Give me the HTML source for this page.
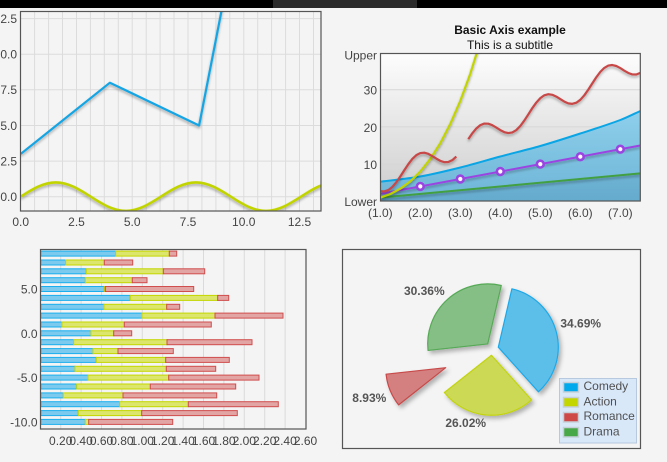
<!DOCTYPE html>
<html><head><meta charset="utf-8"><style>
html,body{margin:0;padding:0;background:#f4f4f4;}
svg{display:block;font-family:"Liberation Sans",sans-serif;}
</style></head><body>
<svg width="667" height="462" viewBox="0 0 667 462" xmlns="http://www.w3.org/2000/svg">
<defs>
<filter id="sh" x="-10%" y="-20%" width="120%" height="150%"><feDropShadow dx="0" dy="2" stdDeviation="1.2" flood-color="#000" flood-opacity="0.3"/></filter>
<filter id="psh" x="-20%" y="-20%" width="150%" height="150%"><feDropShadow dx="2.5" dy="3" stdDeviation="2" flood-color="#000" flood-opacity="0.28"/></filter>
<clipPath id="c1"><rect x="20.5" y="11.5" width="300.5" height="199.5"/></clipPath>
<clipPath id="c2"><rect x="380.5" y="53.5" width="259.8" height="147.5"/></clipPath>
<linearGradient id="bg2" x1="0" y1="0" x2="0" y2="1"><stop offset="0" stop-color="#fdfdfd"/><stop offset="1" stop-color="#cdcdcd"/></linearGradient>
<linearGradient id="ar" gradientUnits="userSpaceOnUse" x1="0" y1="110" x2="0" y2="201"><stop offset="0" stop-color="#8ed0ec"/><stop offset="1" stop-color="#6eb4d6"/></linearGradient>
</defs>
<rect x="0" y="0" width="667" height="462" fill="#f4f4f4"/>
<rect x="0" y="0" width="667" height="8" fill="#000"/>
<rect x="273" y="0" width="144" height="8" fill="#2b2b2b"/>

<!-- TOP LEFT -->
<g stroke="#dcdcdc" stroke-width="1">
<line x1="34.6" y1="11" x2="34.6" y2="211"/><line x1="48.6" y1="11" x2="48.6" y2="211"/><line x1="62.5" y1="11" x2="62.5" y2="211"/><line x1="76.5" y1="11" x2="76.5" y2="211"/><line x1="90.4" y1="11" x2="90.4" y2="211"/><line x1="104.3" y1="11" x2="104.3" y2="211"/><line x1="118.3" y1="11" x2="118.3" y2="211"/><line x1="132.2" y1="11" x2="132.2" y2="211"/><line x1="146.2" y1="11" x2="146.2" y2="211"/><line x1="160.1" y1="11" x2="160.1" y2="211"/><line x1="174.0" y1="11" x2="174.0" y2="211"/><line x1="188.0" y1="11" x2="188.0" y2="211"/><line x1="201.9" y1="11" x2="201.9" y2="211"/><line x1="215.9" y1="11" x2="215.9" y2="211"/><line x1="229.8" y1="11" x2="229.8" y2="211"/><line x1="243.8" y1="11" x2="243.8" y2="211"/><line x1="257.7" y1="11" x2="257.7" y2="211"/><line x1="271.6" y1="11" x2="271.6" y2="211"/><line x1="285.6" y1="11" x2="285.6" y2="211"/><line x1="299.5" y1="11" x2="299.5" y2="211"/><line x1="313.5" y1="11" x2="313.5" y2="211"/>
<line x1="20" y1="18.6" x2="321" y2="18.6"/><line x1="20" y1="54.2" x2="321" y2="54.2"/><line x1="20" y1="89.8" x2="321" y2="89.8"/><line x1="20" y1="125.5" x2="321" y2="125.5"/><line x1="20" y1="161.1" x2="321" y2="161.1"/><line x1="20" y1="196.7" x2="321" y2="196.7"/>
</g>
<g clip-path="url(#c1)" fill="none" stroke-linejoin="round">
<path filter="url(#sh)" d="M20.7,153.95 L109.9,82.7 L199.1,125.45 L243.7,-102.5" stroke="#12a5e4" stroke-width="2.2"/>
<path filter="url(#sh)" d="M20.7,196.7 C32.12,189.4 43.05,182.45 55.73,182.45 C68.41,182.45 79.33,189.4 90.76,196.7 C102.18,204.0 113.11,210.95 125.79,210.95 C138.47,210.95 149.39,204.0 160.82,196.7 C172.24,189.4 183.17,182.45 195.84,182.45 C208.52,182.45 219.44,189.4 230.87,196.7 C242.29,204.0 253.22,210.95 265.9,210.95 C278.58,210.95 289.5,204.0 300.93,196.7 C312.35,189.4 323.28,182.45 335.96,182.45" stroke="#c2d400" stroke-width="2.6"/>
</g>
<rect x="20.5" y="11.5" width="300.5" height="199.5" fill="none" stroke="#555" stroke-width="1.2"/>
<g font-size="12" fill="#444" text-anchor="end">
<text x="17" y="22.9">12.5</text><text x="17" y="58.5">10.0</text><text x="17" y="94.1">7.5</text><text x="17" y="129.8">5.0</text><text x="17" y="165.4">2.5</text><text x="17" y="201">0.0</text>
</g>
<g font-size="12" fill="#444" text-anchor="middle">
<text x="20.7" y="226">0.0</text><text x="76.5" y="226">2.5</text><text x="132.2" y="226">5.0</text><text x="188" y="226">7.5</text><text x="243.7" y="226">10.0</text><text x="299.5" y="226">12.5</text>
</g>

<!-- TOP RIGHT -->
<text x="510" y="34" font-size="12" font-weight="bold" fill="#111" text-anchor="middle">Basic Axis example</text>
<text x="510" y="49" font-size="12" fill="#111" text-anchor="middle">This is a subtitle</text>
<rect x="380.5" y="53.5" width="259.8" height="147.5" fill="url(#bg2)"/>
<g stroke="#d6d6d6" stroke-width="1"><line x1="380.5" y1="89.7" x2="640" y2="89.7"/><line x1="380.5" y1="126.9" x2="640" y2="126.9"/><line x1="380.5" y1="164.1" x2="640" y2="164.1"/></g>
<g clip-path="url(#c2)">
<path d="M380.3,181.7 C393.6,179.97 407,178.87 420.3,176.5 C433.6,174.13 447,170.83 460.3,167.5 C473.6,164.17 487,160.08 500.3,156.5 C513.6,152.92 527,149.83 540.3,146 C553.6,142.17 567,137.83 580.3,133.5 C593.6,129.17 607,125 620.3,120 C627,117.5 633.6,114 640.3,111 L640.3,202 L380.3,202 Z" fill="url(#ar)"/>
<path d="M380.3,197.6 L640.3,173.4 L640.3,202 L380.3,202 Z" fill="#1d5f86" fill-opacity="0.1"/>
<path d="M380.3,181.7 C393.6,179.97 407,178.87 420.3,176.5 C433.6,174.13 447,170.83 460.3,167.5 C473.6,164.17 487,160.08 500.3,156.5 C513.6,152.92 527,149.83 540.3,146 C553.6,142.17 567,137.83 580.3,133.5 C593.6,129.17 607,125 620.3,120 C627,117.5 633.6,114 640.3,111" fill="none" stroke="#0aa5e5" stroke-width="2"/>
<path filter="url(#sh)" d="M380.3,197.6 L640.3,173.4" fill="none" stroke="#43a043" stroke-width="2"/>
<path filter="url(#sh)" d="M380.3,193.9 L640.3,145.5" fill="none" stroke="#9a44e2" stroke-width="2"/>
<path filter="url(#sh)" d="M380.3,197.6 L390.3,194.0 L400.3,188.7 L410.3,181.4 L420.3,171.5 L430.3,158.9 L440.3,143.2 L450.3,123.9 L460.3,100.9 L470.3,73.7 L480.3,41.7 L490.3,5.2" fill="none" stroke="#c2d400" stroke-width="2.2" stroke-linejoin="round"/>
<g filter="url(#sh)" fill="none" stroke="#c84646" stroke-width="2.2" stroke-linejoin="round">
<path d="M380.3,191.14 L384.3,191.46 L388.3,190.1 L392.3,186.98 L396.3,182.31 L400.3,176.52 L404.3,170.24 L408.3,164.17 L412.3,158.96 L416.3,155.16 L420.3,153.06 L424.3,152.7 L428.3,153.85 L432.3,156.03 L436.3,158.61 L440.3,160.87 L444.3,162.18 L448.3,162.03 L452.3,160.15 L456.3,156.54"/>
<path d="M468.3,139.19 L472.3,133.27 L476.3,128.47 L480.3,125.14 L484.3,123.56 L488.3,123.7 L492.3,125.19 L496.3,127.56 L500.3,130.11 L504.3,132.16 L508.3,133.08 L512.3,132.45 L516.3,130.05 L520.3,125.98 L524.3,120.56 L528.3,114.43 L532.3,108.15 L536.3,102.55 L540.3,98.11 L544.3,95.28 L548.3,94.22 L552.3,94.78 L556.3,96.6 L560.3,99.1 L564.3,101.58 L568.3,103.38 L572.3,103.85 L576.3,102.71 L580.3,99.81 L584.3,95.31 L588.3,89.6 L592.3,83.36 L596.3,77.23 L600.3,71.89 L604.3,67.89 L608.3,65.57 L612.3,65.01 L616.3,66 L620.3,68.08 L624.3,70.64 L628.3,72.98 L632.3,74.46 L636.3,74.49 L640.3,72.83"/>
</g>
<g fill="#fff" stroke="#9a44e2" stroke-width="2.6">
<circle cx="420.3" cy="186.4" r="3.4"/><circle cx="460.3" cy="179" r="3.4"/><circle cx="500.3" cy="171.5" r="3.4"/><circle cx="540.3" cy="164.1" r="3.4"/><circle cx="580.3" cy="156.7" r="3.4"/><circle cx="620.3" cy="149.2" r="3.4"/>
</g>
</g>
<rect x="380.5" y="53.5" width="259.8" height="147.5" fill="none" stroke="#555" stroke-width="1.2"/>
<g font-size="12" fill="#444" text-anchor="end">
<text x="377" y="59.5">Upper</text><text x="377" y="94.5">30</text><text x="377" y="131.9">20</text><text x="377" y="169.2">10</text><text x="377" y="206">Lower</text>
</g>
<g font-size="12" fill="#444" text-anchor="middle">
<text x="380.3" y="217">(1.0)</text><text x="420.3" y="217">(2.0)</text><text x="460.3" y="217">(3.0)</text><text x="500.3" y="217">(4.0)</text><text x="540.3" y="217">(5.0)</text><text x="580.3" y="217">(6.0)</text><text x="620.3" y="217">(7.0)</text>
</g>

<!-- BOTTOM LEFT -->
<g stroke="#dadada" stroke-width="1">
<line x1="60.7" y1="249.5" x2="60.7" y2="429"/><line x1="81.1" y1="249.5" x2="81.1" y2="429"/><line x1="101.5" y1="249.5" x2="101.5" y2="429"/><line x1="121.9" y1="249.5" x2="121.9" y2="429"/><line x1="142.3" y1="249.5" x2="142.3" y2="429"/><line x1="162.7" y1="249.5" x2="162.7" y2="429"/><line x1="183.1" y1="249.5" x2="183.1" y2="429"/><line x1="203.5" y1="249.5" x2="203.5" y2="429"/><line x1="223.9" y1="249.5" x2="223.9" y2="429"/><line x1="244.3" y1="249.5" x2="244.3" y2="429"/><line x1="264.7" y1="249.5" x2="264.7" y2="429"/><line x1="285.1" y1="249.5" x2="285.1" y2="429"/>
</g>
<g stroke-width="1">
<g fill="#7ccbef" stroke="#1aaeee">
<rect x="40.8" y="251.1" width="74.9" height="5"/><rect x="40.8" y="260" width="24.9" height="5"/><rect x="40.8" y="268.8" width="45.5" height="5"/><rect x="40.8" y="277.7" width="44.5" height="5"/><rect x="40.8" y="286.5" width="63.5" height="5"/><rect x="40.8" y="295.4" width="89.5" height="5"/><rect x="40.8" y="304.3" width="63.2" height="5"/><rect x="40.8" y="313.1" width="101.2" height="5"/><rect x="40.8" y="322" width="21.2" height="5"/><rect x="40.8" y="330.8" width="50.2" height="5"/><rect x="40.8" y="339.7" width="32.9" height="5"/><rect x="40.8" y="348.6" width="52.2" height="5"/><rect x="40.8" y="357.4" width="55.5" height="5"/><rect x="40.8" y="366.3" width="34.2" height="5"/><rect x="40.8" y="375.1" width="47.2" height="5"/><rect x="40.8" y="384" width="35.9" height="5"/><rect x="40.8" y="392.9" width="22.5" height="5"/><rect x="40.8" y="401.7" width="78.9" height="5"/><rect x="40.8" y="410.6" width="37.5" height="5"/><rect x="40.8" y="419.4" width="44.5" height="5"/>
</g>
<g fill="#dce66c" stroke="#c4d600">
<rect x="115.7" y="251.1" width="53.6" height="5"/><rect x="65.7" y="260" width="38.6" height="5"/><rect x="86.3" y="268.8" width="77" height="5"/><rect x="85.3" y="277.7" width="47" height="5"/><rect x="104.3" y="286.5" width="1" height="5"/><rect x="130.3" y="295.4" width="87.4" height="5"/><rect x="104" y="304.3" width="62.7" height="5"/><rect x="142" y="313.1" width="73" height="5"/><rect x="62" y="322" width="62.3" height="5"/><rect x="91" y="330.8" width="22.7" height="5"/><rect x="73.7" y="339.7" width="93.3" height="5"/><rect x="93" y="348.6" width="25" height="5"/><rect x="96.3" y="357.4" width="69.4" height="5"/><rect x="75" y="366.3" width="91.3" height="5"/><rect x="88" y="375.1" width="80.7" height="5"/><rect x="76.7" y="384" width="73.6" height="5"/><rect x="63.3" y="392.9" width="59.7" height="5"/><rect x="119.7" y="401.7" width="68.6" height="5"/><rect x="78.3" y="410.6" width="63.4" height="5"/><rect x="85.3" y="419.4" width="3.4" height="5"/>
</g>
<g fill="#e3a4a4" stroke="#d04e4e">
<rect x="169.3" y="251.1" width="7.4" height="5"/><rect x="104.3" y="260" width="28.4" height="5"/><rect x="163.3" y="268.8" width="41.4" height="5"/><rect x="132.3" y="277.7" width="14.7" height="5"/><rect x="105.3" y="286.5" width="88.4" height="5"/><rect x="217.7" y="295.4" width="11" height="5"/><rect x="166.7" y="304.3" width="13" height="5"/><rect x="215" y="313.1" width="68" height="5"/><rect x="124.3" y="322" width="87" height="5"/><rect x="113.7" y="330.8" width="18" height="5"/><rect x="167" y="339.7" width="85" height="5"/><rect x="118" y="348.6" width="55.3" height="5"/><rect x="165.7" y="357.4" width="63.6" height="5"/><rect x="166.3" y="366.3" width="49.4" height="5"/><rect x="168.7" y="375.1" width="90.3" height="5"/><rect x="150.3" y="384" width="85.4" height="5"/><rect x="123" y="392.9" width="93.7" height="5"/><rect x="188.3" y="401.7" width="90" height="5"/><rect x="141.7" y="410.6" width="95.6" height="5"/><rect x="88.7" y="419.4" width="84" height="5"/>
</g>
</g>
<rect x="40.5" y="249.5" width="265.5" height="179.5" fill="none" stroke="#555" stroke-width="1.2"/>
<g font-size="12" fill="#444" text-anchor="end">
<text x="37.5" y="293.5">5.0</text><text x="37.5" y="337.8">0.0</text><text x="37.5" y="382.1">-5.0</text><text x="37.5" y="426.4">-10.0</text>
</g>
<g font-size="12" fill="#444" text-anchor="middle">
<text x="60.7" y="445">0.20</text><text x="81.1" y="445">0.40</text><text x="101.5" y="445">0.60</text><text x="121.9" y="445">0.80</text><text x="142.3" y="445">1.00</text><text x="162.7" y="445">1.20</text><text x="183.1" y="445">1.40</text><text x="203.5" y="445">1.60</text><text x="223.9" y="445">1.80</text><text x="244.3" y="445">2.00</text><text x="264.7" y="445">2.20</text><text x="285.1" y="445">2.40</text><text x="305.5" y="445">2.60</text>
</g>

<!-- BOTTOM RIGHT PIE -->
<rect x="342.5" y="249.5" width="298" height="199" fill="none" stroke="#555" stroke-width="1.2"/>
<g filter="url(#psh)" stroke-width="1.2" stroke-linejoin="round">
<path d="M498.3,347.2 L511.9,288.8 A60,60 0 0 1 538.45,391.8 Z" fill="#5bbfe9" stroke="#1ea8e8"/>
<path d="M491.45,355.28 L531.6,399.87 A60,60 0 0 1 444.39,392.49 Z" fill="#cbd955" stroke="#c3d40e"/>
<path d="M445.7,367.69 L398.64,404.9 A60,60 0 0 1 386.05,374.17 Z" fill="#d48080" stroke="#c84a4a"/>
<path d="M487.69,343.93 L428.04,350.41 A60,60 0 0 1 501.29,285.49 Z" fill="#85bf85" stroke="#56a956"/>
</g>
<g font-size="12" font-weight="bold" fill="#555" text-anchor="middle">
<text x="580.7" y="327.5">34.69%</text><text x="424.3" y="295">30.36%</text><text x="369.3" y="402">8.93%</text><text x="465.7" y="427">26.02%</text>
</g>
<rect x="559.5" y="378.5" width="77" height="64.5" fill="#d9e8f9" stroke="#b6c9de" stroke-width="1"/>
<g stroke="#c6cfd8" stroke-width="1.5">
<rect x="563.5" y="382.5" width="15" height="9.5" fill="#00a8ec"/>
<rect x="563.5" y="397.5" width="15" height="9.5" fill="#c4d600"/>
<rect x="563.5" y="412.5" width="15" height="9.5" fill="#cf4848"/>
<rect x="563.5" y="427.5" width="15" height="9.5" fill="#48a848"/>
</g>
<g font-size="12" fill="#505050">
<text x="583.5" y="390">Comedy</text><text x="583.5" y="405.3">Action</text><text x="583.5" y="420">Romance</text><text x="583.5" y="435.3">Drama</text>
</g>
</svg>
</body></html>
